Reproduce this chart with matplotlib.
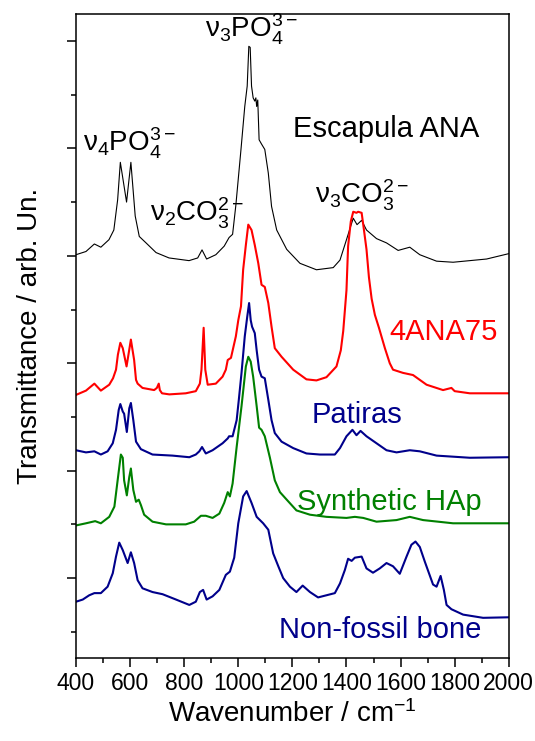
import numpy as np
import matplotlib
matplotlib.use("Agg")
import matplotlib.pyplot as plt
from matplotlib.ticker import MultipleLocator, NullFormatter

plt.rcParams["font.family"] = ["Liberation Sans", "DejaVu Sans"]
plt.rcParams["mathtext.fontset"] = "custom"
plt.rcParams["mathtext.rm"] = "Liberation Sans"
plt.rcParams["mathtext.it"] = "Liberation Sans:italic"
plt.rcParams["mathtext.bf"] = "Liberation Sans:bold"
plt.rcParams["lines.solid_joinstyle"] = "round"

# FTIR traces (stacked, arb. units)
escapula_wn = [400, 437, 468, 492, 522, 540, 554, 564, 587, 603,
               619, 634, 659, 696, 744, 818, 850, 866, 883, 917,
               948, 966, 979, 991, 1010, 1024, 1033, 1039, 1044, 1049,
               1055, 1061, 1065, 1068, 1072, 1077, 1086, 1098, 1111, 1123,
               1142, 1179, 1228, 1289, 1351, 1376, 1400, 1425, 1439, 1456,
               1474, 1511, 1548, 1591, 1634, 1671, 1733, 1794, 1918, 2000]
escapula_y = [4.01, 4.04, 4.11, 4.08, 4.15, 4.24, 4.52, 4.87, 4.50, 4.87,
              4.37, 4.18, 4.12, 4.03, 3.98, 3.955, 3.98, 4.055, 3.97, 4.01,
              4.09, 4.17, 4.20, 4.47, 4.99, 5.39, 5.58, 5.95, 5.94, 5.58,
              5.47, 5.44, 5.47, 5.39, 5.45, 5.08, 5.04, 4.99, 4.77, 4.46,
              4.24, 4.06, 3.93, 3.87, 3.89, 3.96, 4.15, 4.35, 4.29, 4.33,
              4.24, 4.16, 4.12, 4.05, 4.08, 4.01, 3.95, 3.94, 3.97, 4.02]

ana75_wn = [400, 437, 468, 492, 523, 537, 548, 555, 564, 573,
            587, 603, 615, 622, 628, 646, 689, 699, 706, 710,
            718, 745, 806, 843, 858, 864, 872, 878, 887, 917,
            942, 954, 961, 973, 991, 1000, 1010, 1018, 1028, 1037,
            1049, 1061, 1074, 1086, 1098, 1111, 1123, 1135, 1160, 1203,
            1252, 1289, 1326, 1363, 1379, 1388, 1400, 1406, 1416, 1425,
            1437, 1443, 1456, 1462, 1474, 1483, 1493, 1505, 1520, 1542,
            1560, 1572, 1609, 1646, 1696, 1757, 1788, 1800, 1856, 2000]
ana75_y = [2.705, 2.745, 2.81, 2.745, 2.80, 2.86, 2.94, 3.08, 3.19, 3.14,
           2.97, 3.22, 3.03, 2.845, 2.81, 2.77, 2.75, 2.77, 2.81, 2.75,
           2.72, 2.71, 2.72, 2.74, 2.81, 2.94, 3.33, 2.94, 2.80, 2.81,
           2.875, 2.94, 3.03, 3.05, 3.25, 3.40, 3.53, 3.87, 4.10, 4.29,
           4.24, 4.10, 3.93, 3.73, 3.71, 3.56, 3.34, 3.14, 3.06, 2.94,
           2.85, 2.84, 2.87, 2.97, 3.12, 3.30, 3.68, 4.09, 4.32, 4.41,
           4.40, 4.41, 4.40, 4.29, 4.06, 3.80, 3.60, 3.45, 3.33, 3.14,
           3.00, 2.94, 2.91, 2.89, 2.80, 2.75, 2.77, 2.74, 2.72, 2.72]

patiras_wn = [400, 437, 468, 492, 517, 536, 548, 558, 564, 573,
              578, 588, 597, 603, 612, 622, 640, 683, 757, 819,
              843, 856, 866, 880, 905, 942, 961, 966, 979, 994,
              1002, 1012, 1024, 1033, 1040, 1046, 1051, 1061, 1068, 1077,
              1086, 1098, 1111, 1123, 1135, 1160, 1203, 1252, 1302, 1357,
              1376, 1400, 1422, 1437, 1452, 1474, 1511, 1548, 1585, 1634,
              1671, 1733, 1856, 2000]
patiras_y = [2.19, 2.17, 2.18, 2.15, 2.18, 2.255, 2.38, 2.565, 2.62, 2.55,
             2.53, 2.36, 2.58, 2.63, 2.47, 2.27, 2.20, 2.15, 2.14, 2.125,
             2.15, 2.18, 2.22, 2.16, 2.19, 2.255, 2.30, 2.32, 2.32, 2.47,
             2.66, 2.91, 3.25, 3.43, 3.56, 3.40, 3.34, 3.28, 3.12, 2.94,
             2.875, 2.86, 2.66, 2.47, 2.35, 2.27, 2.21, 2.16, 2.15, 2.15,
             2.21, 2.32, 2.38, 2.33, 2.37, 2.32, 2.255, 2.19, 2.17, 2.19,
             2.18, 2.14, 2.12, 2.125]

hap_wn = [400, 437, 471, 492, 523, 542, 554, 566, 573, 578,
          588, 597, 603, 612, 622, 632, 640, 652, 683, 733,
          806, 837, 862, 880, 905, 930, 948, 961, 969, 979,
          994, 1012, 1028, 1037, 1046, 1055, 1068, 1077, 1086, 1098,
          1117, 1135, 1154, 1179, 1215, 1265, 1326, 1400, 1431, 1462,
          1511, 1585, 1634, 1683, 1794, 2000]
hap_y = [1.49, 1.51, 1.53, 1.51, 1.57, 1.665, 1.91, 2.15, 2.12, 1.91,
         1.77, 1.94, 2.02, 1.82, 1.71, 1.73, 1.68, 1.59, 1.525, 1.50,
         1.50, 1.525, 1.58, 1.58, 1.56, 1.60, 1.70, 1.80, 1.76, 1.88,
         2.22, 2.60, 2.97, 3.06, 3.015, 2.875, 2.60, 2.40, 2.38, 2.32,
         2.12, 1.91, 1.80, 1.73, 1.63, 1.59, 1.57, 1.56, 1.57, 1.56,
         1.525, 1.54, 1.57, 1.54, 1.51, 1.51]

bone_wn = [400, 425, 449, 468, 492, 517, 536, 548, 560, 573,
           591, 603, 615, 628, 646, 683, 720, 770, 819, 843,
           858, 870, 883, 905, 930, 954, 969, 985, 1000, 1018,
           1031, 1049, 1068, 1092, 1111, 1129, 1148, 1166, 1191, 1215,
           1238, 1265, 1295, 1326, 1357, 1376, 1394, 1406, 1419, 1431,
           1456, 1474, 1498, 1523, 1548, 1572, 1597, 1622, 1640, 1655,
           1671, 1690, 1720, 1733, 1748, 1760, 1770, 1788, 1831, 1905,
           2000]
bone_y = [0.78, 0.80, 0.84, 0.86, 0.86, 0.92, 1.045, 1.20, 1.33, 1.26,
          1.14, 1.24, 1.14, 0.98, 0.905, 0.87, 0.85, 0.80, 0.75, 0.78,
          0.87, 0.89, 0.80, 0.83, 0.89, 1.03, 1.06, 1.19, 1.51, 1.76,
          1.81, 1.70, 1.57, 1.51, 1.45, 1.23, 1.11, 1.00, 0.92, 0.87,
          0.93, 0.87, 0.82, 0.84, 0.86, 0.95, 1.075, 1.18, 1.16, 1.19,
          1.20, 1.09, 1.05, 1.09, 1.14, 1.11, 1.04, 1.20, 1.31, 1.34,
          1.29, 1.15, 0.94, 0.92, 1.02, 0.89, 0.75, 0.71, 0.66, 0.63,
          0.635]

navy = "#00008B"
fig = plt.figure(figsize=(5.35, 7.41), dpi=100)
ax = fig.add_axes([0.142, 0.112, 0.809, 0.869])

ax.plot(escapula_wn, escapula_y, color="black", lw=0.8)
ax.plot(ana75_wn, ana75_y, color="red", lw=1.5)
ax.plot(patiras_wn, patiras_y, color=navy, lw=1.5)
ax.plot(hap_wn, hap_y, color="#008000", lw=1.5)
ax.plot(bone_wn, bone_y, color=navy, lw=1.5)

# band assignments
fs_band = 20
ax.text(426, 4.967, "ν$_4$PO$_4^{3-}$", fontsize=fs_band, va="baseline")
ax.text(877, 6.03, "ν$_3$PO$_4^{3-}$", fontsize=fs_band, va="baseline")
ax.text(673, 4.316, "ν$_2$CO$_3^{2-}$", fontsize=fs_band, va="baseline")
ax.text(1283, 4.49, "ν$_3$CO$_3^{2-}$", fontsize=fs_band, va="baseline")

# sample names
fs_name = 21
ax.text(1202, 5.107, "Escapula ANA", fontsize=fs_name, va="baseline")
ax.text(1959, 3.217, "4ANA75", fontsize=fs_name, color="red", ha="right", va="baseline")
ax.text(1272, 2.444, "Patiras", fontsize=fs_name, color=navy, va="baseline")
ax.text(1217, 1.634, "Synthetic HAp", fontsize=fs_name, color="#008000", va="baseline")
ax.text(1900, 0.442, "Non-fossil bone", fontsize=fs_name, color=navy, ha="right", va="baseline")

ax.set_xlim(400, 2000)
ax.set_ylim(0.256, 6.25)
ax.xaxis.set_major_locator(MultipleLocator(200))
ax.xaxis.set_minor_locator(MultipleLocator(100))
ax.yaxis.set_major_locator(MultipleLocator(1))
ax.yaxis.set_minor_locator(MultipleLocator(0.5))
ax.yaxis.set_major_formatter(NullFormatter())
ax.tick_params(which="both", direction="out", top=False, right=False, width=1.1)
ax.tick_params(which="major", length=6.5, labelsize=16.5)
ax.tick_params(which="minor", length=3.5)
for sp in ax.spines.values():
    sp.set_linewidth(1.1)

ax.set_xlabel("Wavenumber / cm$^{-1}$", fontsize=20, labelpad=4)
ax.set_ylabel("Transmittance / arb. Un.", fontsize=20, labelpad=14)

fig.savefig("out.png", dpi=100)
